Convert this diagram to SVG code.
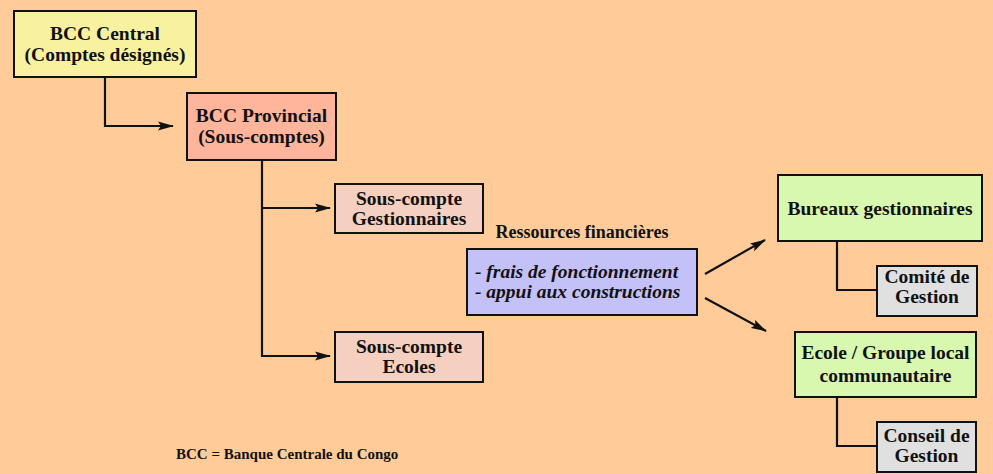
<svg xmlns="http://www.w3.org/2000/svg" width="993" height="474" viewBox="0 0 993 474">
<defs>
<marker id="ah" viewBox="0 0 16 10" refX="15" refY="5" markerWidth="16" markerHeight="10" markerUnits="userSpaceOnUse" orient="auto">
<path d="M0,0.5 L16,5 L0,9.5 L3,5 Z" fill="#111"/>
</marker>
<style>
.box{stroke:#111;stroke-width:2}
.t{font-family:"Liberation Serif","Times New Roman",serif;font-weight:bold;font-size:19.5px;fill:#111;text-anchor:middle}
.i{font-family:"Liberation Serif","Times New Roman",serif;font-weight:bold;font-style:italic;font-size:19.5px;fill:#111}
.c{fill:none;stroke:#111;stroke-width:2.2}
</style>
</defs>
<rect x="0" y="0" width="993" height="474" fill="#FFCC99"/>
<g id="connectors">
<path class="c" d="M105,77 V126 H173" marker-end="url(#ah)"/>
<path class="c" d="M262,160 V357"/>
<path class="c" d="M261,208 H330" marker-end="url(#ah)"/>
<path class="c" d="M261,356 H330" marker-end="url(#ah)"/>
<path class="c" d="M705,274 L765,240" marker-end="url(#ah)"/>
<path class="c" d="M705,298 L766,331" marker-end="url(#ah)"/>
<path class="c" d="M837,241 V290 H877"/>
<path class="c" d="M837,397 V446 H877"/>
</g>
<g id="bcc-central">
<rect class="box" x="14" y="11" width="182" height="66" fill="#F8F2A0"/>
<text class="t" x="105" y="40">BCC Central</text>
<text class="t" x="105" y="61">(Comptes désignés)</text>
</g>
<g id="bcc-provincial">
<rect class="box" x="187" y="93" width="149" height="67" fill="#FFB49C"/>
<text class="t" x="261.5" y="122">BCC Provincial</text>
<text class="t" x="261.5" y="143">(Sous-comptes)</text>
</g>
<g id="sc-gestionnaires">
<rect class="box" x="335" y="184" width="148" height="49" fill="#F5D0C0"/>
<text class="t" x="409" y="205">Sous-compte</text>
<text class="t" x="409" y="225">Gestionnaires</text>
</g>
<g id="sc-ecoles">
<rect class="box" x="335" y="332" width="148" height="50" fill="#F5D0C0"/>
<text class="t" x="409" y="353">Sous-compte</text>
<text class="t" x="409" y="373">Ecoles</text>
</g>
<g id="ressources">
<text class="t" x="582" y="238" style="font-size:18px">Ressources financières</text>
<rect class="box" x="467" y="249" width="230" height="66" fill="#C4C0F8"/>
<text class="i" x="475" y="278">- frais de fonctionnement</text>
<text class="i" x="475" y="298">- appui aux constructions</text>
</g>
<g id="bureaux">
<rect class="box" x="778" y="175" width="204" height="66" fill="#D8F8B0"/>
<text class="t" x="880" y="215">Bureaux gestionnaires</text>
</g>
<g id="comite">
<rect class="box" x="877" y="266" width="100" height="50" fill="#E0E0E0"/>
<text class="t" x="927" y="283">Comité de</text>
<text class="t" x="927" y="303">Gestion</text>
</g>
<g id="ecole">
<rect class="box" x="795" y="332" width="181" height="65" fill="#D8F8B0"/>
<text class="t" x="885.5" y="359">Ecole / Groupe local</text>
<text class="t" x="885.5" y="382">communautaire</text>
</g>
<g id="conseil">
<rect class="box" x="877" y="422" width="99" height="50" fill="#E0E0E0"/>
<text class="t" x="926.5" y="442">Conseil de</text>
<text class="t" x="926.5" y="462">Gestion</text>
</g>
<text x="176" y="459" style="font-family:'Liberation Serif','Times New Roman',serif;font-weight:bold;font-size:15px;fill:#111">BCC = Banque Centrale du Congo</text>
</svg>
